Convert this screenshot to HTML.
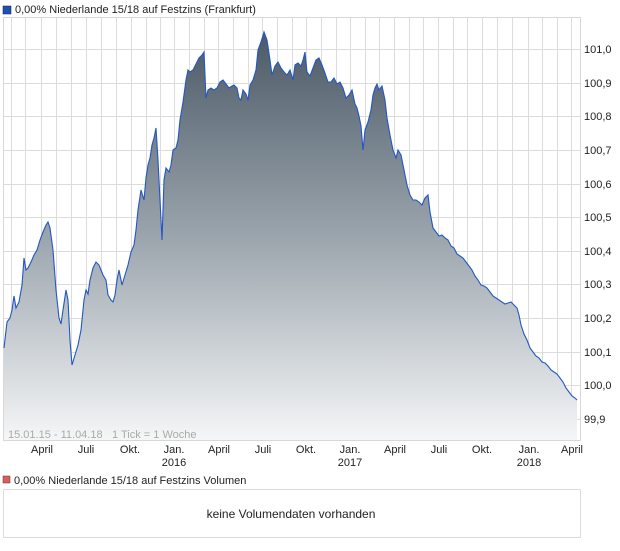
<!DOCTYPE html>
<html><head><meta charset="utf-8"><style>
body{margin:0;background:#fff;width:620px;height:546px;overflow:hidden;font-family:"Liberation Sans",sans-serif;}
</style></head><body>
<svg width="620" height="546" xmlns="http://www.w3.org/2000/svg" font-family="Liberation Sans, sans-serif">
<defs><linearGradient id="g" gradientUnits="userSpaceOnUse" x1="0" y1="30" x2="0" y2="440">
<stop offset="0" stop-color="#4b5966"/><stop offset="0.5" stop-color="#9aa4ac"/><stop offset="1" stop-color="#f5f6f7"/></linearGradient>
<path id="p" d="M4,348 L7,322 L10,318 L12,310 L14,296 L16,308 L19,302 L22,285 L24,258 L26,270 L28,268 L31,262 L34,255 L37,250 L40,240 L43,232 L46,225 L48,222 L50,228 L53,250 L56,290 L59,318 L61,324 L63,310 L66,290 L68,300 L70,340 L72,365 L75,355 L78,345 L81,330 L84,300 L86,290 L88,294 L90,280 L93,268 L96,262 L99,265 L101,270 L103,275 L106,280 L108,295 L111,300 L113,302 L115,295 L117,280 L119,270 L122,285 L125,275 L128,265 L131,252 L134,245 L136,230 L138,210 L141,190 L144,200 L146,178 L148,165 L150,158 L152,145 L154,138 L156,128 L158,160 L160,200 L162,240 L164,180 L166,168 L169,172 L171,165 L173,150 L176,148 L178,140 L180,120 L183,102 L186,80 L188,70 L190,72 L193,70 L196,64 L199,58 L202,55 L204,52 L206,98 L208,90 L211,88 L214,90 L217,88 L220,82 L223,80 L226,84 L229,88 L232,86 L234,85 L237,88 L239,98 L241,100 L243,90 L246,94 L248,100 L250,85 L253,80 L256,70 L258,50 L261,42 L264,32 L267,40 L270,60 L272,75 L275,66 L278,62 L281,68 L284,72 L287,75 L290,70 L293,80 L295,65 L298,63 L301,66 L303,60 L305,52 L307,72 L310,76 L313,68 L316,60 L319,58 L322,65 L325,73 L328,82 L331,82 L334,78 L337,84 L340,82 L343,88 L346,98 L349,95 L352,90 L355,104 L357,108 L359,116 L361,126 L363,150 L365,130 L368,122 L371,110 L373,95 L375,88 L377,84 L379,90 L382,86 L385,100 L387,118 L390,135 L393,150 L396,158 L398,150 L401,155 L404,170 L407,185 L410,195 L413,200 L416,200 L419,202 L422,205 L425,198 L428,195 L430,212 L433,228 L436,232 L439,236 L442,235 L445,238 L448,240 L451,246 L454,248 L457,254 L460,256 L463,258 L466,262 L469,266 L472,270 L475,276 L478,280 L481,285 L484,286 L487,288 L490,292 L493,296 L496,298 L499,300 L502,302 L505,304 L508,303 L511,302 L514,305 L517,308 L519,315 L521,325 L524,334 L527,340 L530,348 L533,352 L536,356 L539,358 L542,362 L545,363 L548,366 L551,370 L554,372 L557,374 L560,378 L563,382 L566,388 L569,392 L572,396 L575,398 L577,400"/>
</defs>
<rect x="3" y="6" width="8" height="8" fill="#1f4fb0" stroke="#123" stroke-width="0.5"/>
<text x="15" y="13" font-size="11" fill="#222">0,00% Niederlande 15/18 auf Festzins (Frankfurt)</text>
<g stroke="#dcdcdc" stroke-width="1">
<line x1="3" y1="49.5" x2="581" y2="49.5"/><line x1="3" y1="83.5" x2="581" y2="83.5"/><line x1="3" y1="116.5" x2="581" y2="116.5"/><line x1="3" y1="150.5" x2="581" y2="150.5"/><line x1="3" y1="184.5" x2="581" y2="184.5"/><line x1="3" y1="217.5" x2="581" y2="217.5"/><line x1="3" y1="251.5" x2="581" y2="251.5"/><line x1="3" y1="284.5" x2="581" y2="284.5"/><line x1="3" y1="318.5" x2="581" y2="318.5"/><line x1="3" y1="352.5" x2="581" y2="352.5"/><line x1="3" y1="385.5" x2="581" y2="385.5"/><line x1="3" y1="419.5" x2="581" y2="419.5"/>
<line x1="11.5" y1="17" x2="11.5" y2="440"/><line x1="25.5" y1="17" x2="25.5" y2="440"/><line x1="41.5" y1="17" x2="41.5" y2="440"/><line x1="56.5" y1="17" x2="56.5" y2="440"/><line x1="71.5" y1="17" x2="71.5" y2="440"/><line x1="86.5" y1="17" x2="86.5" y2="440"/><line x1="101.5" y1="17" x2="101.5" y2="440"/><line x1="116.5" y1="17" x2="116.5" y2="440"/><line x1="131.5" y1="17" x2="131.5" y2="440"/><line x1="146.5" y1="17" x2="146.5" y2="440"/><line x1="160.5" y1="17" x2="160.5" y2="440"/><line x1="174.5" y1="17" x2="174.5" y2="440"/><line x1="189.5" y1="17" x2="189.5" y2="440"/><line x1="204.5" y1="17" x2="204.5" y2="440"/><line x1="218.5" y1="17" x2="218.5" y2="440"/><line x1="233.5" y1="17" x2="233.5" y2="440"/><line x1="248.5" y1="17" x2="248.5" y2="440"/><line x1="262.5" y1="17" x2="262.5" y2="440"/><line x1="277.5" y1="17" x2="277.5" y2="440"/><line x1="292.5" y1="17" x2="292.5" y2="440"/><line x1="306.5" y1="17" x2="306.5" y2="440"/><line x1="321.5" y1="17" x2="321.5" y2="440"/><line x1="336.5" y1="17" x2="336.5" y2="440"/><line x1="350.5" y1="17" x2="350.5" y2="440"/><line x1="365.5" y1="17" x2="365.5" y2="440"/><line x1="379.5" y1="17" x2="379.5" y2="440"/><line x1="394.5" y1="17" x2="394.5" y2="440"/><line x1="409.5" y1="17" x2="409.5" y2="440"/><line x1="423.5" y1="17" x2="423.5" y2="440"/><line x1="438.5" y1="17" x2="438.5" y2="440"/><line x1="453.5" y1="17" x2="453.5" y2="440"/><line x1="467.5" y1="17" x2="467.5" y2="440"/><line x1="482.5" y1="17" x2="482.5" y2="440"/><line x1="497.5" y1="17" x2="497.5" y2="440"/><line x1="512.5" y1="17" x2="512.5" y2="440"/><line x1="528.5" y1="17" x2="528.5" y2="440"/><line x1="542.5" y1="17" x2="542.5" y2="440"/><line x1="557.5" y1="17" x2="557.5" y2="440"/><line x1="571.5" y1="17" x2="571.5" y2="440"/>
</g>
<rect x="3.5" y="17.5" width="577" height="423" fill="none" stroke="#d8d8d8"/>
<path d="M4,348 L7,322 L10,318 L12,310 L14,296 L16,308 L19,302 L22,285 L24,258 L26,270 L28,268 L31,262 L34,255 L37,250 L40,240 L43,232 L46,225 L48,222 L50,228 L53,250 L56,290 L59,318 L61,324 L63,310 L66,290 L68,300 L70,340 L72,365 L75,355 L78,345 L81,330 L84,300 L86,290 L88,294 L90,280 L93,268 L96,262 L99,265 L101,270 L103,275 L106,280 L108,295 L111,300 L113,302 L115,295 L117,280 L119,270 L122,285 L125,275 L128,265 L131,252 L134,245 L136,230 L138,210 L141,190 L144,200 L146,178 L148,165 L150,158 L152,145 L154,138 L156,128 L158,160 L160,200 L162,240 L164,180 L166,168 L169,172 L171,165 L173,150 L176,148 L178,140 L180,120 L183,102 L186,80 L188,70 L190,72 L193,70 L196,64 L199,58 L202,55 L204,52 L206,98 L208,90 L211,88 L214,90 L217,88 L220,82 L223,80 L226,84 L229,88 L232,86 L234,85 L237,88 L239,98 L241,100 L243,90 L246,94 L248,100 L250,85 L253,80 L256,70 L258,50 L261,42 L264,32 L267,40 L270,60 L272,75 L275,66 L278,62 L281,68 L284,72 L287,75 L290,70 L293,80 L295,65 L298,63 L301,66 L303,60 L305,52 L307,72 L310,76 L313,68 L316,60 L319,58 L322,65 L325,73 L328,82 L331,82 L334,78 L337,84 L340,82 L343,88 L346,98 L349,95 L352,90 L355,104 L357,108 L359,116 L361,126 L363,150 L365,130 L368,122 L371,110 L373,95 L375,88 L377,84 L379,90 L382,86 L385,100 L387,118 L390,135 L393,150 L396,158 L398,150 L401,155 L404,170 L407,185 L410,195 L413,200 L416,200 L419,202 L422,205 L425,198 L428,195 L430,212 L433,228 L436,232 L439,236 L442,235 L445,238 L448,240 L451,246 L454,248 L457,254 L460,256 L463,258 L466,262 L469,266 L472,270 L475,276 L478,280 L481,285 L484,286 L487,288 L490,292 L493,296 L496,298 L499,300 L502,302 L505,304 L508,303 L511,302 L514,305 L517,308 L519,315 L521,325 L524,334 L527,340 L530,348 L533,352 L536,356 L539,358 L542,362 L545,363 L548,366 L551,370 L554,372 L557,374 L560,378 L563,382 L566,388 L569,392 L572,396 L575,398 L577,400 L577,440 L4,440 Z" fill="url(#g)" stroke="none"/>
<use href="#p" fill="none" stroke="#2357c4" stroke-width="1.1"/>
<g font-size="11" fill="#222">
<text x="584" y="53">101,0</text><text x="584" y="87">100,9</text><text x="584" y="120">100,8</text><text x="584" y="154">100,7</text><text x="584" y="188">100,6</text><text x="584" y="221">100,5</text><text x="584" y="255">100,4</text><text x="584" y="288">100,3</text><text x="584" y="322">100,2</text><text x="584" y="356">100,1</text><text x="584" y="389">100,0</text><text x="584" y="423">99,9</text>
</g>
<text x="8" y="438" font-size="11" fill="#aaa">15.01.15 - 11.04.18</text>
<text x="112" y="438" font-size="11" fill="#aaa">1 Tick = 1 Woche</text>
<g font-size="11" fill="#222" text-anchor="middle">
<text x="42" y="453">April</text><text x="86" y="453">Juli</text><text x="130" y="453">Okt.</text><text x="174" y="453">Jan.</text><text x="174" y="466">2016</text><text x="219" y="453">April</text><text x="263" y="453">Juli</text><text x="306" y="453">Okt.</text><text x="350" y="453">Jan.</text><text x="350" y="466">2017</text><text x="395" y="453">April</text><text x="439" y="453">Juli</text><text x="482" y="453">Okt.</text><text x="529" y="453">Jan.</text><text x="529" y="466">2018</text><text x="572" y="453">April</text>
</g>
<rect x="3" y="476" width="7" height="7" fill="#d46060" stroke="#633" stroke-width="0.5"/>
<text x="14" y="484" font-size="11" fill="#222">0,00% Niederlande 15/18 auf Festzins Volumen</text>
<rect x="3.5" y="489.5" width="577" height="48" fill="#fff" stroke="#dcdcdc"/>
<text x="291" y="518" font-size="12" fill="#222" text-anchor="middle">keine Volumendaten vorhanden</text>
</svg>
</body></html>
